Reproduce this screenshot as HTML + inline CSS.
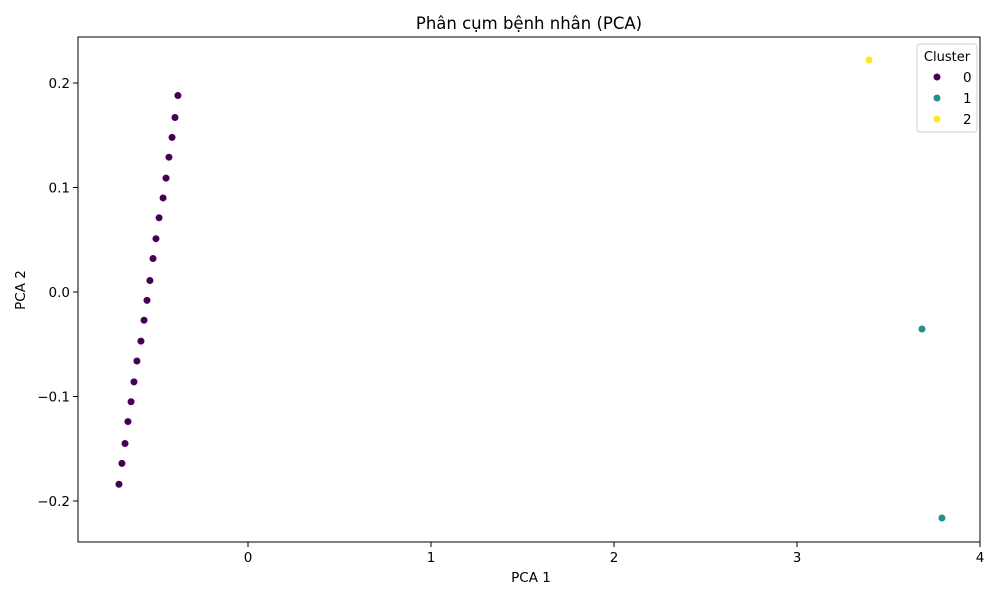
<!DOCTYPE html>
<html><head><meta charset="utf-8"><style>
body{margin:0;background:#fff;}
svg text{font-family:"DejaVu Sans","Liberation Sans",sans-serif;}
</style></head><body>
<svg id="chart" width="1000" height="600" xmlns="http://www.w3.org/2000/svg">
<rect width="1000" height="600" fill="#fff"/>
<text x="529" y="29" font-size="16.5" text-anchor="middle">Phân cụm bệnh nhân (PCA)</text>
<g id="axes"></g>
<g id="points"></g>
<rect x="78" y="37" width="902" height="505" fill="none" stroke="#000" stroke-width="1"/>
<text x="531" y="582" font-size="13.5" text-anchor="middle">PCA 1</text>
<text x="25" y="290" font-size="13.5" text-anchor="middle" transform="rotate(-90 25 290)">PCA 2</text>
<g id="legend">
<rect x="917" y="44" width="60" height="88" fill="#fff" stroke="#ccc" rx="3"/>
<text x="947" y="61" font-size="13" text-anchor="middle">Cluster</text>
</g>
</svg>
<script>
const x0 = [-0.705,-0.689,-0.672,-0.656,-0.639,-0.623,-0.607,-0.585,-0.568,-0.552,-0.536,-0.519,-0.503,-0.486,-0.464,-0.448,-0.432,-0.415,-0.399,-0.383];
const y0 = [-0.184,-0.164,-0.145,-0.124,-0.105,-0.086,-0.066,-0.047,-0.027,-0.008,0.011,0.032,0.051,0.071,0.090,0.109,0.129,0.148,0.167,0.188];
const x1 = [3.683,3.792];
const y1 = [-0.0354,-0.2163];
const x2 = [3.393];
const y2 = [0.222];
const clusters = ["0","1","2"];
const colors = ["#440154","#21918c","#fde725"];
const xTicks = [0,1,2,3,4];
const yTicks = [-0.2,-0.1,0.0,0.1,0.2];

const NS="http://www.w3.org/2000/svg";
function sx(v){return 248+v*183;}
function sy(v){return 292-v*1045;}
function mk(tag,attrs,parent){const e=document.createElementNS(NS,tag);for(const k in attrs)e.setAttribute(k,attrs[k]);parent.appendChild(e);return e;}
const axes=document.getElementById('axes');
xTicks.forEach(t=>{
  const l=mk('line',{x1:sx(t),x2:sx(t),y1:542,y2:547,stroke:'#000'},axes);
  
  
  const tx=mk('text',{x:sx(t),y:562,'font-size':13.5,'text-anchor':'middle'},axes);
  tx.textContent=String(t);
  
  
});
yTicks.forEach(t=>{
  const l=mk('line',{x1:73,x2:78,y1:sy(t),y2:sy(t),stroke:'#000'},axes);
  
  
  const tx=mk('text',{x:70,y:sy(t)+5,'font-size':13.5,'text-anchor':'end'},axes);
  tx.textContent=t.toFixed(1).replace('-','\u2212');
  
  
});
const pts=document.getElementById('points');
[[x0,y0],[x1,y1],[x2,y2]].forEach((s,ci)=>{
  s[0].forEach((xv,i)=>{
    const c=mk('circle',{cx:sx(xv),cy:sy(s[1][i]),r:3.8,fill:colors[ci],stroke:'#fff','stroke-width':0.6},pts);
    
    
  });
});
const lg=document.getElementById('legend');
clusters.forEach((c,i)=>{
  const cy=77+i*21;
  const m=mk('circle',{cx:937,cy:cy,r:3.8,fill:colors[i],stroke:'#fff','stroke-width':0.6},lg);
  
  
  const t=mk('text',{x:963,y:cy+5,'font-size':13.5},lg);
  t.textContent=c;
  
  
});
</script>
</body></html>
